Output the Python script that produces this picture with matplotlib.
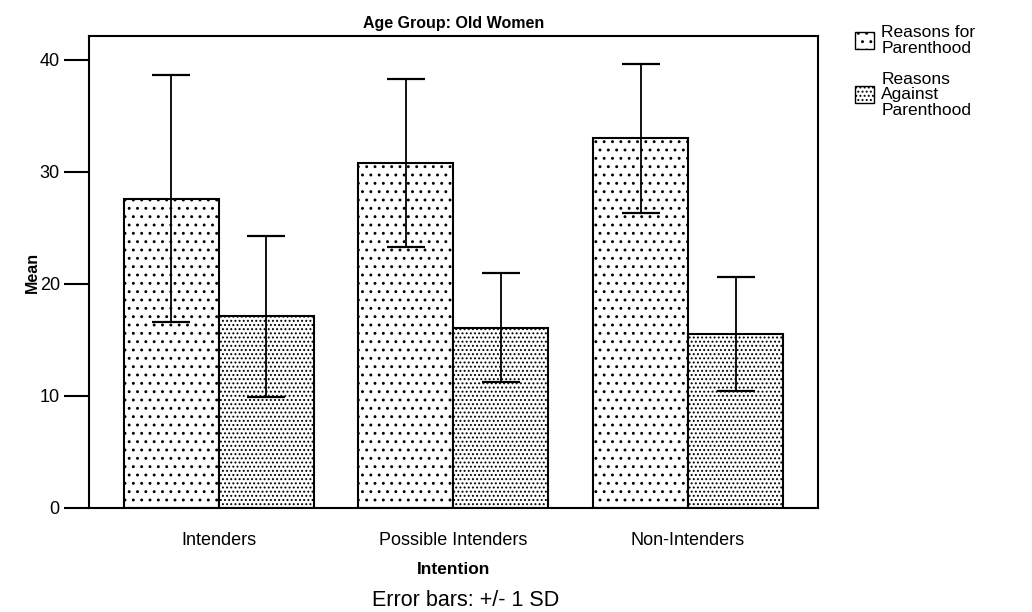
import matplotlib
matplotlib.use('Agg')
import matplotlib.pyplot as plt
import numpy as np
from matplotlib.patches import Patch

plt.rcParams['font.family'] = ['Liberation Sans', 'DejaVu Sans']
plt.rcParams['hatch.linewidth'] = 0.9

# Data
categories = ['Intenders', 'Possible Intenders', 'Non-Intenders']
series_names = ['Reasons for\nParenthood', 'Reasons\nAgainst\nParenthood']
means_for = [27.6, 30.8, 33.0]
sd_for = [11.0, 7.5, 6.65]
means_against = [17.1, 16.1, 15.5]
sd_against = [7.2, 4.85, 5.1]

fig = plt.figure(figsize=(10.32, 6.12), dpi=100)
ax = fig.add_axes([0.0862, 0.170, 0.7064, 0.771])

x = np.arange(len(categories))
w = 0.405
err_kw = dict(ecolor='black', elinewidth=1.3, capsize=14, capthick=1.6)
ax.bar(x - w / 2, means_for, w, yerr=sd_for, color='white', edgecolor='black',
       hatch='..', linewidth=1.5, error_kw=err_kw)
ax.bar(x + w / 2, means_against, w, yerr=sd_against, color='white', edgecolor='black',
       hatch='....', linewidth=1.5, error_kw=err_kw)

ax.set_xlim(-0.554, 2.554)
ax.set_ylim(0, 42.1)
ax.set_yticks([0, 10, 20, 30, 40])
ax.set_xticks(x)
ax.set_xticklabels(categories, fontsize=13)
ax.tick_params(axis='y', labelsize=13, length=18, width=1.5, direction='out', pad=3)
ax.tick_params(axis='x', length=0, pad=17)
for s in ax.spines.values():
    s.set_linewidth(1.5)

ax.set_ylabel('Mean', fontsize=11.5, fontweight='bold', labelpad=0)
ax.set_xlabel('Intention', fontsize=12.5, fontweight='bold', labelpad=10)
ax.set_title('Age Group: Old Women', fontsize=11.5, fontweight='bold', pad=6)
fig.text(0.451, 0.01, 'Error bars: +/- 1 SD', fontsize=15.5, ha='center')

handles = [Patch(facecolor='white', edgecolor='black', hatch='..', label=series_names[0]),
           Patch(facecolor='white', edgecolor='black', hatch='....', label=series_names[1])]
leg = fig.legend(handles=handles, loc='upper left', bbox_to_anchor=(0.822, 0.97), frameon=False,
                 fontsize=12.5, handlelength=1.1, handleheight=1.1, handletextpad=0.4,
                 labelspacing=0.9, borderaxespad=0)
for t in leg.get_texts():
    t.set_linespacing(1.05)

fig.savefig('out.png', dpi=100)
